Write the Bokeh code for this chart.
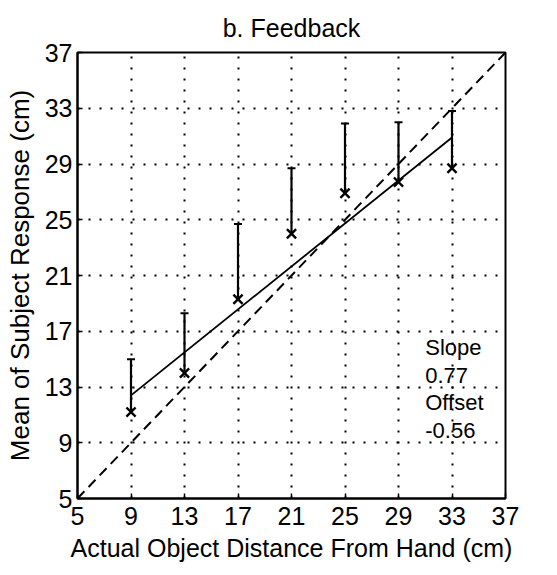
from bokeh.plotting import figure
from bokeh.models import FixedTicker, Label, ColumnDataSource, Range1d
from bokeh.embed import file_html
from bokeh.resources import INLINE

# data
dist = [9, 13, 17, 21, 25, 29, 33]
mean_resp = [11.2, 14.0, 19.3, 24.0, 26.9, 27.7, 28.7]
resp_upper = [15.0, 18.3, 24.7, 28.7, 31.9, 32.0, 32.8]
fit_x = [9, 33]
fit_y = [12.4, 30.9]
ident = [5, 37]
ticks = [5, 9, 13, 17, 21, 25, 29, 33, 37]
title_text = "b. Feedback"
xlabel = "Actual Object Distance From Hand (cm)"
ylabel = "Mean of Subject Response (cm)"
annot = "Slope\n0.77\nOffset\n-0.56"

FONT = "Liberation Sans"

p = figure(width=549, height=567, output_backend="svg", toolbar_location=None,
           x_range=Range1d(5, 37), y_range=Range1d(5, 37),
           min_border_left=77, min_border_right=44, min_border_top=52,
           min_border_bottom=69, background_fill_color="white",
           border_fill_color="white")

p.title.text = title_text
p.title.align = "center"
p.title.vertical_align = "middle"
p.title.text_font = FONT
p.title.text_font_size = "25px"
p.title.text_font_style = "normal"
p.title.text_color = "black"
p.title.standoff = 20

for ax in (p.xaxis, p.yaxis):
    ax.ticker = FixedTicker(ticks=ticks)
    ax.major_label_text_font = FONT
    ax.major_label_text_font_size = "25px"
    ax.major_label_text_color = "black"
    ax.axis_label_text_font = FONT
    ax.axis_label_text_font_style = "normal"
    ax.axis_label_text_color = "black"
    ax.major_tick_in = 5
    ax.major_tick_out = 0
    ax.minor_tick_line_color = None
    ax.major_tick_line_color = "black"
    ax.major_tick_line_width = 1.5
    ax.axis_line_color = "black"
    ax.axis_line_width = 2

p.xaxis.axis_label = xlabel
p.yaxis.axis_label = ylabel
p.xaxis.axis_label_text_font_size = "25px"
p.yaxis.axis_label_text_font_size = "26px"
p.xaxis.major_label_standoff = 8
p.yaxis.major_label_standoff = 5
p.xaxis.axis_label_standoff = 6
p.yaxis.axis_label_standoff = 7

p.outline_line_color = "black"
p.outline_line_width = 2

p.grid.ticker = FixedTicker(ticks=ticks)
p.grid.grid_line_color = "black"
p.grid.grid_line_dash = "2 9"
p.grid.grid_line_width = 2
p.grid.grid_line_alpha = 1.0

src = ColumnDataSource(dict(x=dist, y=mean_resp, top=resp_upper))

# identity line
p.line(ident, ident, line_color="black", line_dash="10 6", line_width=2)
# fit line
p.line(fit_x, fit_y, line_color="black", line_width=1.8)
# error bars
p.segment(x0="x", y0="y", x1="x", y1="top", source=src, line_color="black", line_width=2.2)
p.scatter(x="x", y="top", source=src, marker="dash", size=8, line_color="black", line_width=2)
# means
p.scatter(x="x", y="y", source=src, marker="x", size=13, line_color="black", line_width=2.4)

p.add_layout(Label(x=31, y=16.7, text=annot, text_font=FONT, text_font_size="22px",
                   text_baseline="top", text_align="left", text_line_height=1.1,
                   text_color="black"))

open("out.html", "w").write(file_html(p, INLINE))
